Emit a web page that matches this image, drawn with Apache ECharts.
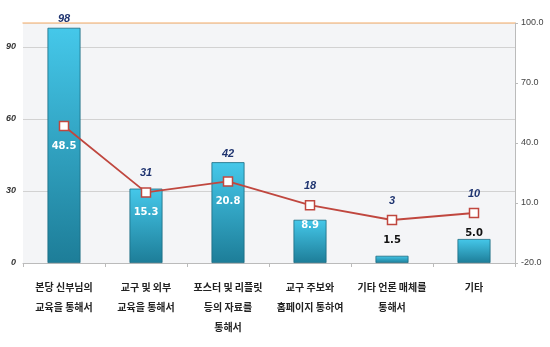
<!DOCTYPE html>
<html><head><meta charset="utf-8">
<script src="https://cdn.jsdelivr.net/npm/echarts@6/dist/echarts.min.js"></script>
<style>html,body{margin:0;padding:0;background:#fff}#c{width:550px;height:347px}</style>
</head><body><div id="c"></div>
<script>
const categories = ['본당 신부님의\n교육을 통해서','교구 및 외부\n교육을 통해서','포스터 및 리플릿\n등의 자료를\n통해서','교구 주보와\n홈페이지 통하여','기타 언론 매체를\n통해서','기타'];
const barValues = [98, 31, 42, 18, 3, 10];
const lineValues = [48.5, 15.3, 20.8, 8.9, 1.5, 5.0];
const lineLabelDark = [false, false, false, false, true, true];

const chart = echarts.init(document.getElementById('c'));
const font = '"Noto Sans CJK KR", "Noto Sans", sans-serif';
const barLabel = {show: true, position: 'top', distance: 3, fontFamily: 'Liberation Sans, sans-serif', fontSize: 11, fontStyle: 'italic', fontWeight: 'bold', color: '#1f3470'};
chart.setOption({
  animation: false,
  grid: {left: 23, right: 35, top: 23, bottom: 84, show: true, backgroundColor: '#f4f5f7', borderWidth: 0},
  xAxis: [{
    type: 'category', data: categories,
    axisLine: {lineStyle: {color: '#bbb'}},
    axisTick: {show: true, alignWithLabel: false, length: 4, lineStyle: {color: '#bbb'}},
    axisLabel: {fontFamily: font, fontSize: 10, fontWeight: 'bold', color: '#222', lineHeight: 20, margin: 14, interval: 0}
  }, {
    type: 'category', position: 'top', data: categories,
    axisLine: {onZero: false, lineStyle: {color: '#f8c89a', width: 1.5}},
    axisTick: {show: false}, axisLabel: {show: false}
  }],
  yAxis: [{
    type: 'value', min: 0, max: 100, interval: 30,
    axisLine: {show: false}, axisTick: {show: false},
    axisLabel: {showMaxLabel: false, fontFamily: 'Liberation Sans, sans-serif', fontSize: 9, fontStyle: 'italic', fontWeight: 'bold', color: '#333', margin: 7},
    splitLine: {lineStyle: {color: '#d2d2d2', width: 1.2}}
  }, {
    type: 'value', min: -20, max: 100, interval: 30, position: 'right',
    axisLine: {show: true, onZero: false, lineStyle: {color: '#bbb'}},
    axisTick: {show: true, length: 3, lineStyle: {color: '#bbb'}},
    axisLabel: {formatter: v => v.toFixed(1), fontFamily: 'Liberation Sans, sans-serif', fontSize: 9, color: '#444', margin: 6},
    splitLine: {show: false}
  }],
  series: [{
    type: 'bar', data: barValues, barWidth: 33, xAxisIndex: 0, yAxisIndex: 0,
    itemStyle: {
      color: new echarts.graphic.LinearGradient(0, 0, 0, 1, [
        {offset: 0, color: '#45c8ea'}, {offset: 1, color: '#1d7d98'}
      ]),
      borderColor: '#1a6a80', borderWidth: 0.8
    },
    label: barLabel
  }, {
    type: 'line', data: lineValues.map((v, i) => ({
      value: v,
      label: {color: lineLabelDark[i] ? '#111' : '#fff'}
    })),
    xAxisIndex: 0, yAxisIndex: 1,
    symbol: 'rect', symbolSize: 9,
    lineStyle: {color: '#c0473f', width: 1.8},
    itemStyle: {color: '#fff', borderColor: '#c0473f', borderWidth: 1.5},
    label: {show: true, position: 'bottom', distance: 10, formatter: p => p.value.toFixed(1), fontFamily: 'DejaVu Sans, sans-serif', fontSize: 10, fontWeight: 'bold'},
    z: 5
  }]
});
// lift bar value labels above the line marker where the marker sits above/near the bar top
const barData = barValues.map((v, i) => {
  const barTop = chart.convertToPixel({yAxisIndex: 0}, v);
  const marker = chart.convertToPixel({yAxisIndex: 1}, lineValues[i]);
  const wanted = marker - 20;
  const natural = barTop - 9;
  if (wanted < natural) return {value: v, label: {offset: [0, wanted - natural]}};
  return v;
});
chart.setOption({series: [{data: barData}]});
</script></body></html>
